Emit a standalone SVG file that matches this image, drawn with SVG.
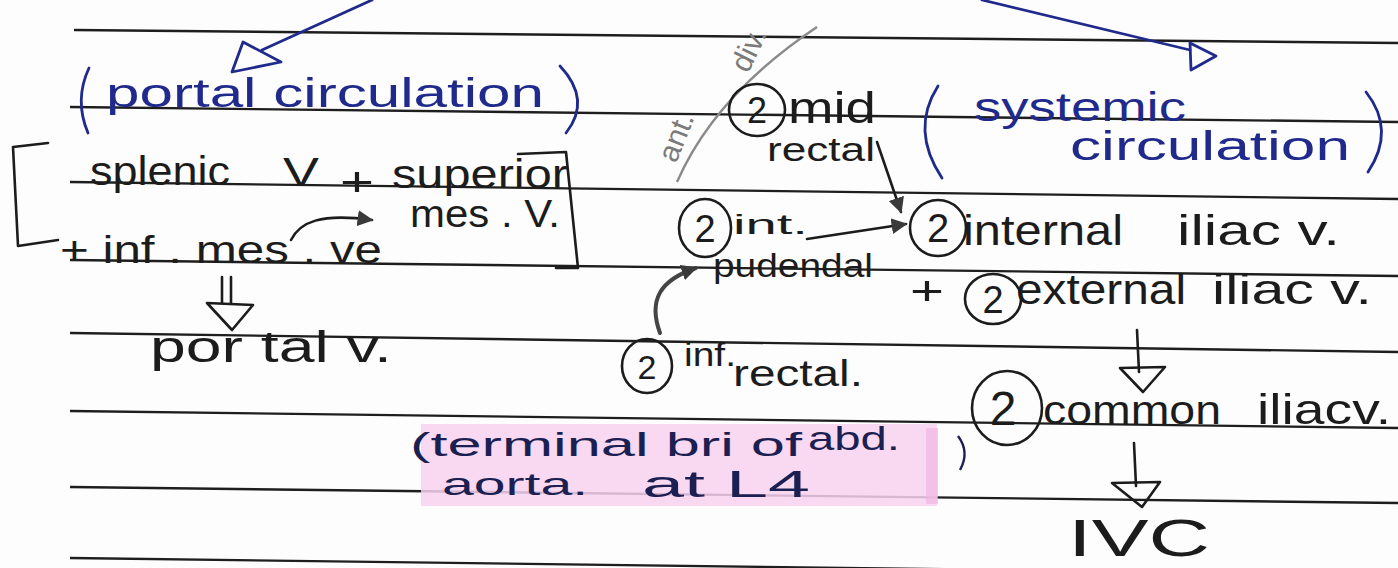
<svg xmlns="http://www.w3.org/2000/svg" width="1398" height="568" viewBox="0 0 1398 568">
  <style>
    .ink { font-family: "Liberation Sans", "DejaVu Sans", sans-serif; fill: #1c1c1c; }
    .blue { font-family: "Liberation Sans", "DejaVu Sans", sans-serif; fill: #1f2a8c; }
    .navy { font-family: "Liberation Sans", "DejaVu Sans", sans-serif; fill: #1b1f52; }
    .pencil { font-family: "Liberation Sans", "DejaVu Sans", sans-serif; fill: #7a7a7a; }
    .rule { stroke: #1e1e1e; stroke-width: 2.4; fill: none; }
    .stroke { stroke: #1c1c1c; stroke-width: 2.6; fill: none; stroke-linecap: round; stroke-linejoin: round; }
    .bstroke { stroke: #1f2a8c; stroke-width: 2.8; fill: none; stroke-linecap: round; stroke-linejoin: round; }
    .num { stroke: #1c1c1c; stroke-width: 2.6; fill: none; }
  </style>
  <defs>
    <marker id="solid" viewBox="0 0 10 10" refX="9" refY="5" markerWidth="9" markerHeight="9" orient="auto" markerUnits="userSpaceOnUse">
      <path d="M0,0 L10,5 L0,10 Z" fill="#2a2a2a"/>
    </marker>
    <marker id="solid-lg" viewBox="0 0 10 10" refX="9" refY="5" markerWidth="16" markerHeight="16" orient="auto" markerUnits="userSpaceOnUse">
      <path d="M0,0 L10,5 L0,10 Z" fill="#3a3a3a"/>
    </marker>
  </defs>

  <!-- paper -->
  <rect x="0" y="0" width="1398" height="568" fill="#fdfdfd"/>

  <!-- ruled lines -->
  <g id="rules">
    <line class="rule" x1="74" y1="30" x2="1398" y2="43"/>
    <line class="rule" x1="70" y1="107" x2="1398" y2="122"/>
    <line class="rule" x1="70" y1="182" x2="1398" y2="199"/>
    <line class="rule" x1="70" y1="260" x2="1398" y2="276"/>
    <line class="rule" x1="70" y1="333" x2="1398" y2="352"/>
    <line class="rule" x1="70" y1="411" x2="1398" y2="428"/>
    <line class="rule" x1="70" y1="487" x2="1398" y2="503"/>
    <line class="rule" x1="70" y1="558" x2="1398" y2="575"/>
  </g>

  <!-- highlighter band behind the aorta note -->
  <g id="highlight">
    <rect x="421" y="424" width="516" height="82" fill="#f8d2ef" opacity="0.85"/>
    <rect x="926" y="428" width="12" height="76" fill="#f1b6e4" opacity="0.7"/>
  </g>

  <!-- heading: portal circulation -->
  <g id="portal-circulation">
    <path class="bstroke" d="M89,68 Q74,100 88,133"/>
    <text class="blue" x="106" y="107" font-size="40" textLength="438" lengthAdjust="spacingAndGlyphs">portal circulation</text>
    <path class="bstroke" d="M560,66 Q592,100 566,133"/>
  </g>

  <!-- heading: systemic circulation -->
  <g id="systemic-circulation">
    <path class="bstroke" d="M938,86 Q910,130 942,178"/>
    <text class="blue" x="974" y="121" font-size="40" textLength="212" lengthAdjust="spacingAndGlyphs">systemic</text>
    <text class="blue" x="1070" y="160" font-size="40" textLength="280" lengthAdjust="spacingAndGlyphs">circulation</text>
    <path class="bstroke" d="M1366,92 Q1396,130 1368,172"/>
  </g>

  <!-- pencil note along the curve -->
  <g id="ant-div">
    <path d="M677,182 Q715,95 817,27" stroke="#8a8a8a" stroke-width="2.4" fill="none"/>
    <text class="pencil" font-size="30" transform="translate(676,164) rotate(-68)">ant.</text>
    <text class="pencil" font-size="30" transform="translate(748,74) rotate(-64)">div.</text>
  </g>

  <!-- portal tributaries -->
  <g id="portal-tributaries">
    <path class="stroke" d="M48,143 L13,147 L18,246 L58,240"/>
    <text class="ink" x="90" y="185" font-size="40" textLength="140" lengthAdjust="spacingAndGlyphs">splenic</text>
    <text class="ink" x="283" y="186" font-size="40" textLength="36" lengthAdjust="spacingAndGlyphs">V</text>
    <text class="ink" x="340" y="196" font-size="40" textLength="34" lengthAdjust="spacingAndGlyphs">+</text>
    <text class="ink" x="392" y="188" font-size="40" textLength="176" lengthAdjust="spacingAndGlyphs">superior</text>
    <text class="ink" x="410" y="227" font-size="38" textLength="150" lengthAdjust="spacingAndGlyphs">mes . V.</text>
    <text class="ink" x="60" y="263" font-size="38" textLength="322" lengthAdjust="spacingAndGlyphs">+ inf . mes . ve</text>
    <path class="stroke" d="M518,154 L566,152 L578,268 L556,268"/>
  </g>

  <g id="portal-vein">
    <text class="ink" x="150" y="362" font-size="44" textLength="242" lengthAdjust="spacingAndGlyphs">por tal v.</text>
  </g>

  <!-- rectal veins -->
  <g id="mid-rectal">
    <ellipse class="num" cx="757" cy="110" rx="28" ry="26"/>
    <text class="ink" x="757" y="123" font-size="36" text-anchor="middle">2</text>
    <text class="ink" x="788" y="123" font-size="44" textLength="88" lengthAdjust="spacingAndGlyphs">mid</text>
    <text class="ink" x="767" y="161" font-size="34" textLength="108" lengthAdjust="spacingAndGlyphs">rectal</text>
  </g>

  <g id="int-pudendal">
    <ellipse class="num" cx="705" cy="228" rx="26" ry="29"/>
    <text class="ink" x="705" y="242" font-size="38" text-anchor="middle">2</text>
    <text class="ink" x="733" y="234" font-size="28" textLength="75" lengthAdjust="spacingAndGlyphs">int.</text>
    <text class="ink" x="713" y="277" font-size="34" textLength="160" lengthAdjust="spacingAndGlyphs">pudendal</text>
  </g>

  <g id="inf-rectal">
    <ellipse class="num" cx="647" cy="366" rx="25" ry="27"/>
    <text class="ink" x="647" y="379" font-size="34" text-anchor="middle">2</text>
    <text class="ink" x="684" y="366" font-size="34" textLength="52" lengthAdjust="spacingAndGlyphs">inf.</text>
    <text class="ink" x="733" y="386" font-size="36" textLength="130" lengthAdjust="spacingAndGlyphs">rectal.</text>
  </g>

  <!-- iliac veins -->
  <g id="internal-iliac">
    <ellipse class="num" cx="938" cy="228" rx="28" ry="28"/>
    <text class="ink" x="938" y="242" font-size="40" text-anchor="middle">2</text>
    <text class="ink" x="963" y="245" font-size="42" textLength="160" lengthAdjust="spacingAndGlyphs">internal</text>
    <text class="ink" x="1177" y="245" font-size="42" textLength="163" lengthAdjust="spacingAndGlyphs">iliac v.</text>
  </g>

  <g id="external-iliac">
    <text class="ink" x="910" y="305" font-size="40" textLength="34" lengthAdjust="spacingAndGlyphs">+</text>
    <ellipse class="num" cx="993" cy="299" rx="28" ry="25"/>
    <text class="ink" x="993" y="313" font-size="38" text-anchor="middle">2</text>
    <text class="ink" x="1016" y="304" font-size="42" textLength="170" lengthAdjust="spacingAndGlyphs">external</text>
    <text class="ink" x="1212" y="304" font-size="42" textLength="160" lengthAdjust="spacingAndGlyphs">iliac v.</text>
  </g>

  <g id="common-iliac">
    <ellipse class="num" cx="1007" cy="408" rx="35" ry="37"/>
    <text class="ink" x="1003" y="425" font-size="48" text-anchor="middle">2</text>
    <text class="ink" x="1043" y="424" font-size="40" textLength="178" lengthAdjust="spacingAndGlyphs">common</text>
    <text class="ink" x="1257" y="424" font-size="42" textLength="134" lengthAdjust="spacingAndGlyphs">iliacv.</text>
  </g>

  <g id="ivc">
    <text class="ink" x="1068" y="556" font-size="52" textLength="142" lengthAdjust="spacingAndGlyphs">IVC</text>
  </g>

  <!-- aorta note -->
  <g id="aorta-note">
    <text class="navy" x="410" y="456" font-size="33" textLength="392" lengthAdjust="spacingAndGlyphs">(terminal bri of</text>
    <text class="navy" x="808" y="450" font-size="33" textLength="92" lengthAdjust="spacingAndGlyphs">abd.</text>
    <path d="M958,436 Q970,452 960,470" stroke="#1b1f52" stroke-width="2.4" fill="none"/>
    <text class="navy" x="442" y="495" font-size="32" textLength="146" lengthAdjust="spacingAndGlyphs">aorta.</text>
    <text class="navy" x="642" y="497" font-size="36" textLength="168" lengthAdjust="spacingAndGlyphs">at L4</text>
  </g>

  <!-- connectors -->
  <g id="connectors">
    <!-- blue pointers to the two headings -->
    <path class="bstroke" d="M372,0 L262,50"/>
    <polygon class="bstroke" points="243,42 281,62 232,72"/>
    <path class="bstroke" d="M982,0 L1190,50"/>
    <polygon class="bstroke" points="1190,43 1216,56 1191,70"/>

    <!-- tributary arrows -->
    <path class="stroke" d="M291,240 C300,222 320,213 372,220" marker-end="url(#solid-lg)"/>
    <path class="stroke" d="M222,277 L222,303 M231,277 L231,303"/>
    <polygon class="stroke" points="207,303 253,305 232,330"/>

    <!-- rectal drainage arrows -->
    <path class="stroke" d="M877,142 L901,212" stroke-width="3" marker-end="url(#solid-lg)"/>
    <path class="stroke" d="M807,239 L906,224" stroke-width="3" marker-end="url(#solid-lg)"/>
    <path d="M660,333 C648,300 660,280 696,268" stroke="#444" stroke-width="4" fill="none" stroke-linecap="round" marker-end="url(#solid-lg)"/>

    <!-- iliac to IVC arrows -->
    <path class="stroke" d="M1137,330 L1139,372"/>
    <polygon class="stroke" points="1120,368 1165,367 1143,392"/>
    <path class="stroke" d="M1134,443 L1136,486"/>
    <polygon class="stroke" points="1112,483 1160,482 1142,507"/>
  </g>
</svg>
